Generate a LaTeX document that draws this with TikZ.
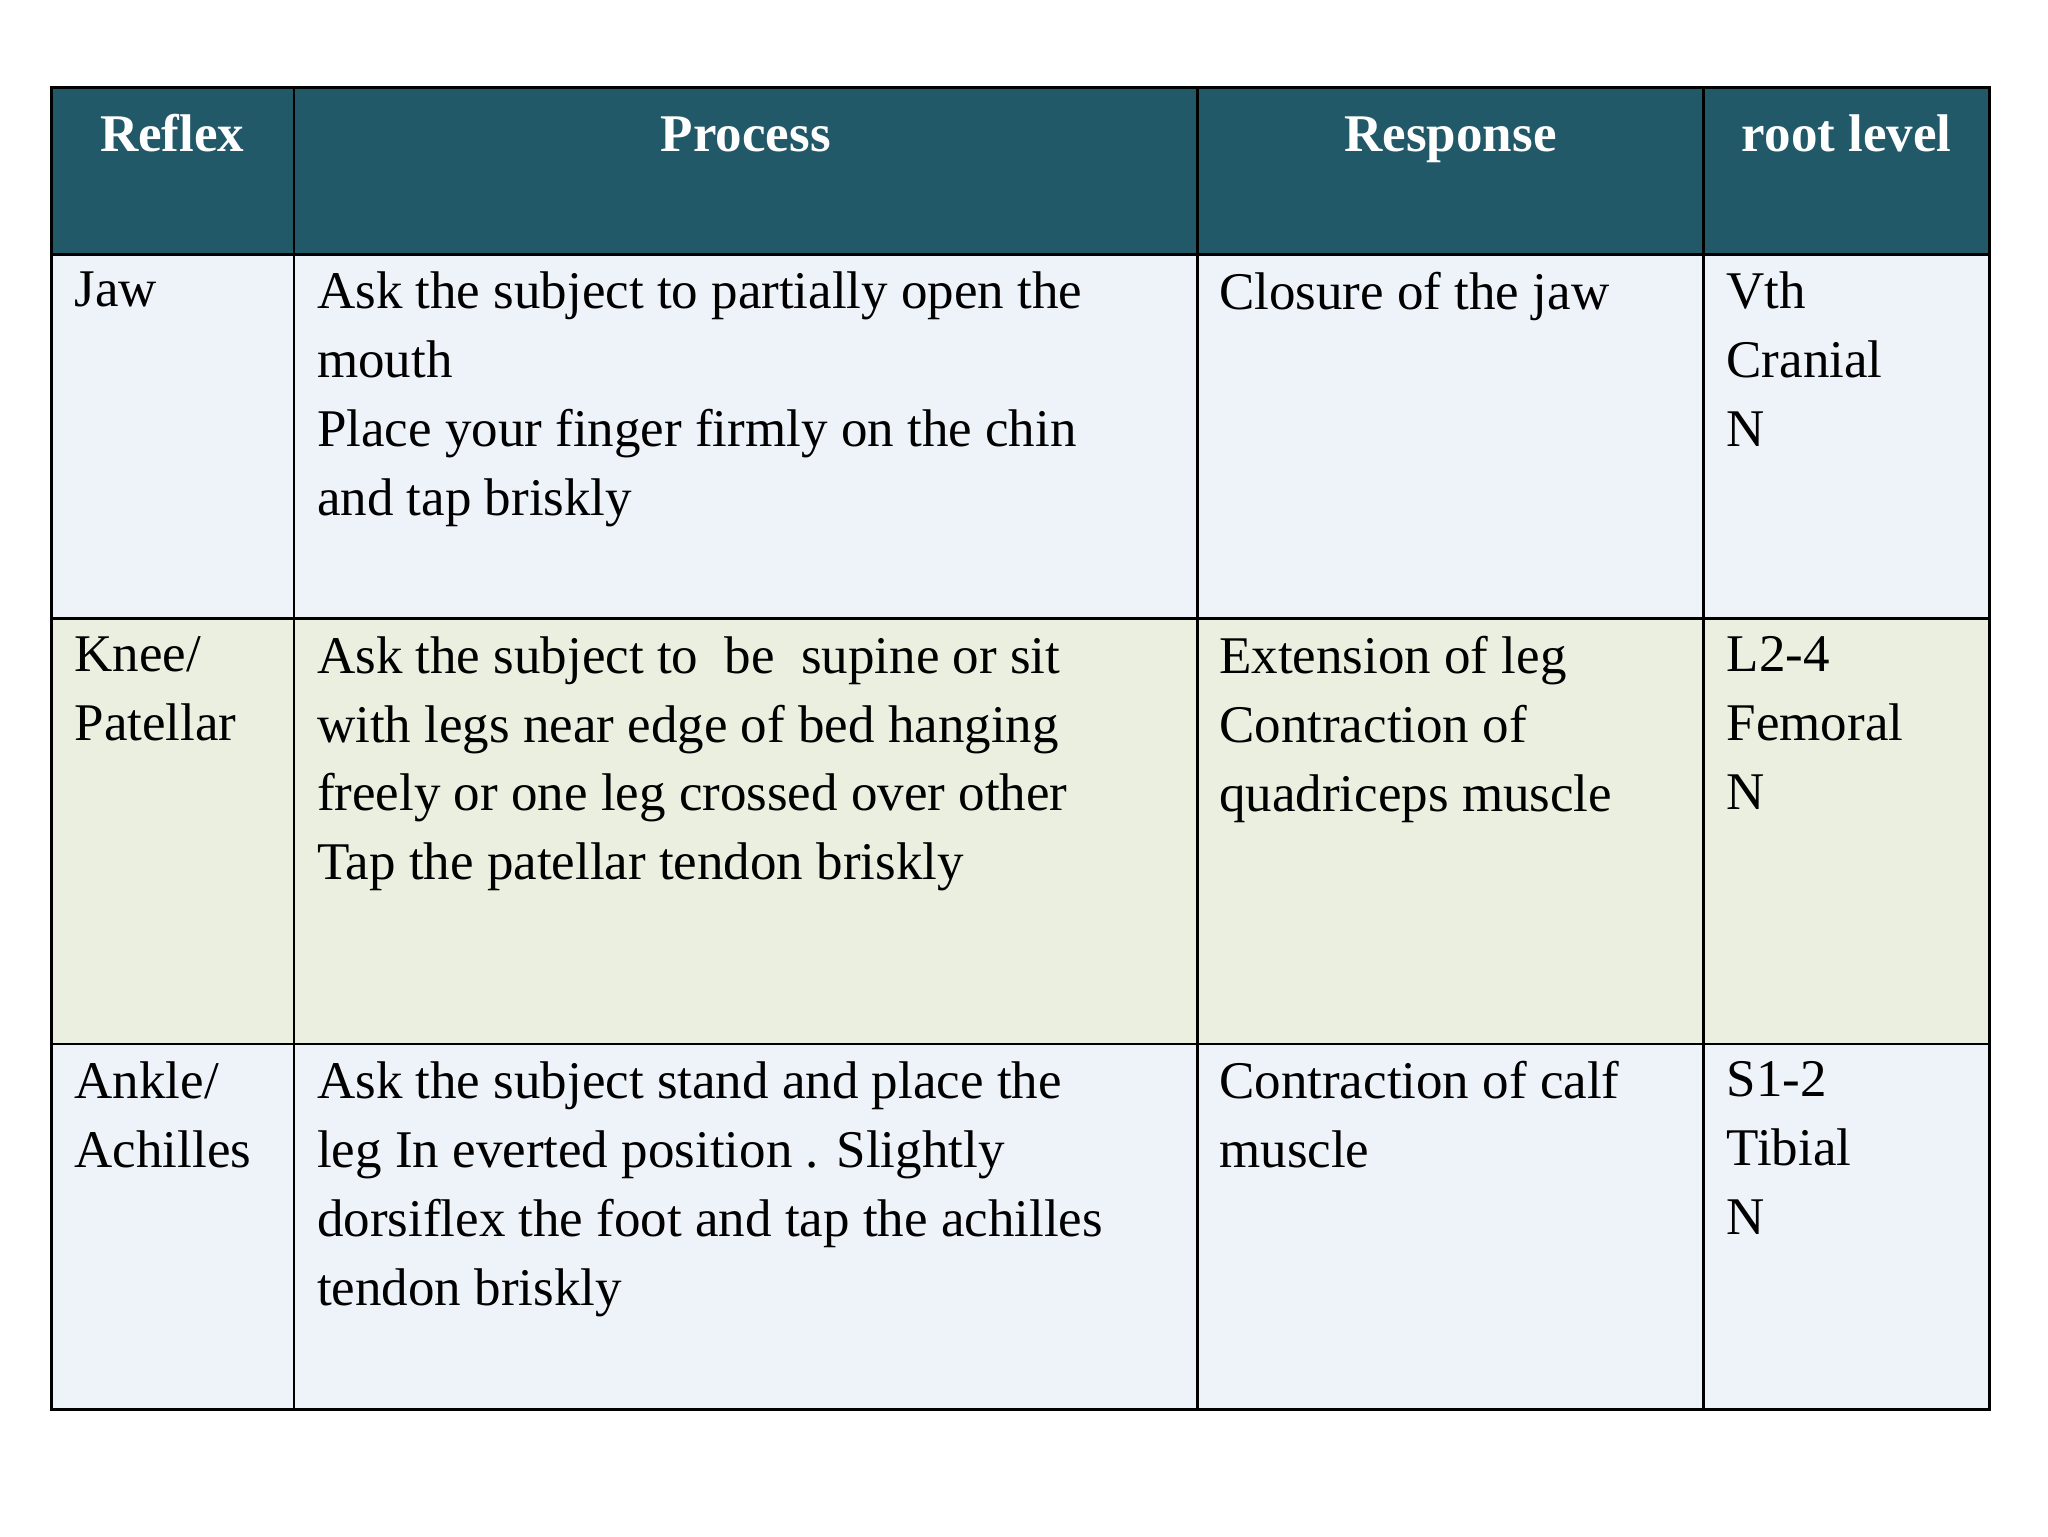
\documentclass[tikz,border=0pt]{standalone}
\usepackage{fontspec}
\setmainfont{Liberation Serif}
\definecolor{hdr}{HTML}{215968}
\definecolor{rowb}{HTML}{EEF2F9}
\definecolor{rowg}{HTML}{EBEFE0}
\tikzset{x=0.5pt,y=-0.5pt,
 cell/.style={anchor=north west,align=left,inner sep=0pt,font=\fontsize{20}{26}\selectfont},
 head/.style={anchor=base,text=white,font=\fontsize{20}{26}\selectfont\bfseries}}
\begin{document}
\begin{tikzpicture}
\useasboundingbox (0,0) rectangle (1546,1160);
\fill[hdr] (39,66) rectangle (1502,192);
\fill[rowb] (39,192) rectangle (1502,467);
\fill[rowg] (39,467) rectangle (1502,788);
\fill[rowb] (39,788) rectangle (1502,1064);
\draw[line width=1pt] (39,66) rectangle (1502,1064);
\foreach \x in {222,904,1286} \draw[line width=1pt] (\x,66) -- (\x,1064);
\foreach \y in {192,467,788} \draw[line width=1pt] (39,\y) -- (1502,\y);
\node[head] (h1) at (130,114) {Reflex};
\node[head] (h2) at (563,114) {Process};
\node[head] (h3) at (1095,114) {Response};
\node[head] (h4) at (1394,114) {root level};
\node[cell] (a1) at (56,205) {Jaw};
\node[cell] (a2) at (239,205) {Ask the subject to partially open the\\mouth\\Place your finger firmly on the chin\\and tap briskly};
\node[cell] (a3) at (920,205) {Closure of the jaw};
\node[cell] (a4) at (1303,205) {Vth\\Cranial\\N};
\node[cell] (b1) at (56,480) {Knee/\\Patellar};
\node[cell] (b2) at (239,480) {Ask the subject to\ \ be\ \ supine or sit\\with legs near edge of bed hanging\\freely or one leg crossed over other\\Tap the patellar tendon briskly};
\node[cell] (b3) at (920,480) {Extension of leg\\Contraction of\\quadriceps muscle};
\node[cell] (b4) at (1303,480) {L2-4\\Femoral\\N};
\node[cell] (c1) at (56,801) {Ankle/\\Achilles};
\node[cell] (c2) at (239,801) {Ask the subject stand and place the\\leg In everted position . Slightly\\dorsiflex the foot and tap the achilles\\tendon briskly};
\node[cell] (c3) at (920,801) {Contraction of calf\\muscle};
\node[cell] (c4) at (1303,801) {S1-2\\Tibial\\N};
\end{tikzpicture}
\end{document}
